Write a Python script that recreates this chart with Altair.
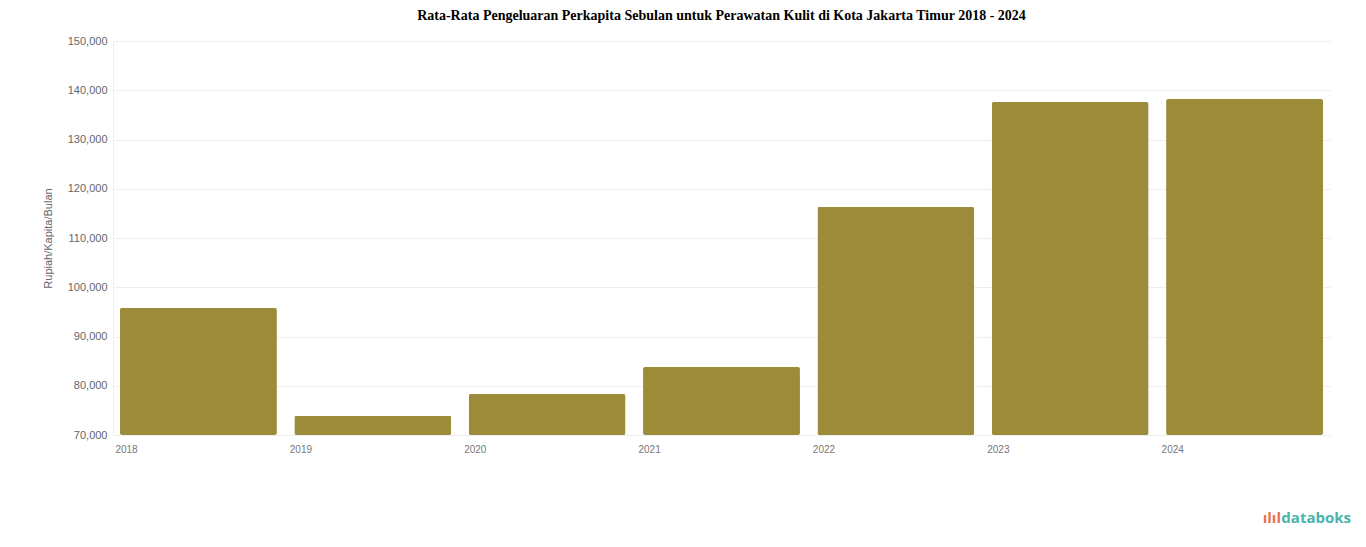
import altair as alt
import pandas as pd

YEARS = ["2018", "2019", "2020", "2021", "2022", "2023", "2024"]
SPENDING = [95800, 73900, 78300, 83800, 116300, 137600, 138200]
Y_TICKS = [70000, 80000, 90000, 100000, 110000, 120000, 130000, 140000, 150000]

TITLE = "Rata-Rata Pengeluaran Perkapita Sebulan untuk Perawatan Kulit di Kota Jakarta Timur 2018 - 2024"
BAR_COLOR = "#9c8b38"

df = pd.DataFrame({"tahun": YEARS, "nilai": SPENDING})

bars = alt.Chart(df).mark_bar(color=BAR_COLOR, cornerRadius=2).encode(
    x=alt.X(
        "tahun:N",
        title=None,
        sort=YEARS,
        scale=alt.Scale(paddingInner=0.1, paddingOuter=0.04),
        axis=alt.Axis(
            labelAlign="left", labelAngle=0, labelOffset=-83,
            labelColor="#777777", labelFontSize=10, labelFont="Liberation Sans",
            ticks=False, domain=False, labelPadding=9,
        ),
    ),
    y=alt.Y(
        "nilai:Q",
        title="Rupiah/Kapita/Bulan",
        scale=alt.Scale(domain=[Y_TICKS[0], Y_TICKS[-1]], nice=False, zero=False, clamp=True),
        axis=alt.Axis(
            values=Y_TICKS, format=",d",
            labelColor="#666666", labelFontSize=11, labelFont="Liberation Sans",
            titleColor="#666666", titleFontSize=11, titleFont="Liberation Sans",
            titleFontWeight="normal", titlePadding=14,
            gridColor="#eeeeee", domainColor="#eeeeee", ticks=False, labelPadding=6,
        ),
    ),
    tooltip=["tahun", "nilai"],
)

# databoks watermark, bottom right
logo = alt.Chart(pd.DataFrame({"t": ["databoks"]})).mark_text(
    align="right", baseline="middle", fontSize=15, font="Open Sans",
    fontWeight="bold", color="#4ab3ab",
).encode(text="t:N", x=alt.value(1351 - 113), y=alt.value(518 - 41))

logo_icon = alt.Chart(pd.DataFrame({"t": ["ılıl"]})).mark_text(
    align="right", baseline="middle", fontSize=15, font="Open Sans",
    fontWeight="bold", color="#e8734a",
).encode(text="t:N", x=alt.value(1281 - 113), y=alt.value(518 - 41))

chart = alt.layer(bars, logo, logo_icon).properties(
    width=1217,
    height=394,
    autosize="none",
    padding={"left": 105, "top": 33, "right": 28, "bottom": 100},
    title=alt.TitleParams(
        TITLE, font="Liberation Serif", fontSize=14, fontWeight="bold",
        color="#000000", anchor="middle", offset=12,
    ),
).configure_view(stroke=None)

chart.save("out.html", embed_options={"renderer": "svg", "actions": False})
